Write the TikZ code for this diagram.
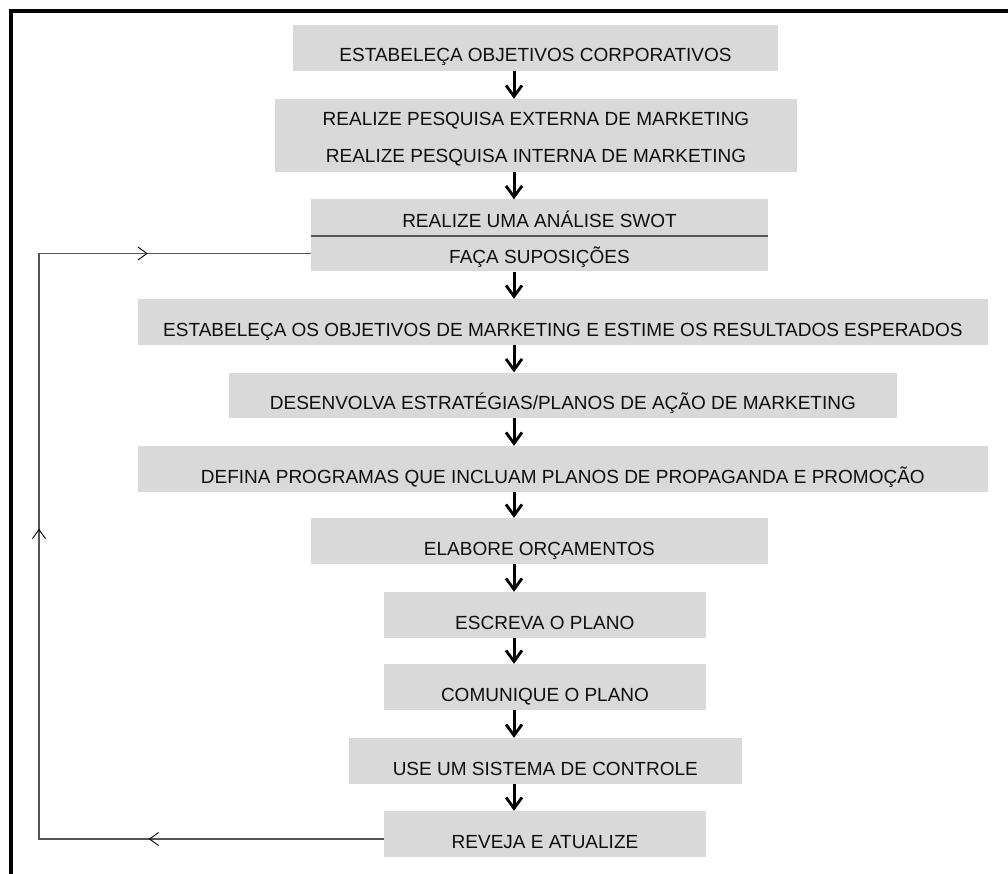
\documentclass[tikz,border=0pt]{standalone}
\usepackage{fontspec}
\setmainfont{Liberation Sans}
\usetikzlibrary{arrows.meta,decorations.markings}
\definecolor{boxgray}{RGB}{217,217,217}
\definecolor{linegray}{RGB}{85,85,85}
\definecolor{ink}{RGB}{15,15,15}
\begin{document}
\begin{tikzpicture}[x=1pt,y=-1pt,
  boxfont/.style={font=\fontsize{19}{23}\selectfont, text=ink},
  stepbox/.style={boxfont, fill=boxgray, inner sep=0pt, minimum height=45.7pt,
    text height=28.3pt, text depth=0pt},
  halfbox/.style={stepbox, minimum height=36pt, text height=21pt},
  textline/.style={boxfont, inner sep=0pt, anchor=base},
  flow/.style={line width=3pt, draw=black,
    -{Straight Barb[length=11pt,width=16pt,line width=2.8pt]}},
  fbtip/.style={black, line width=0.9pt},
  feedback/.style={draw=linegray, line width=1.3pt, line join=miter,
    postaction={decorate},
    decoration={markings,
      mark=at position 235pt with {\arrow[fbtip]{Straight Barb[length=9pt,width=13pt]}},
      mark=at position 655pt with {\arrow[fbtip]{Straight Barb[length=9pt,width=13pt]}},
      mark=at position 1039pt with {\arrow[fbtip]{Straight Barb[length=9pt,width=13pt]}}}},
  frame/.style={draw=black, line width=3.4pt, line join=miter}
]
\useasboundingbox (0,0) rectangle (1008,874);

% outer frame: top and left edges
\draw[frame] (11,880) -- (11,11) -- (1012,11);

% process steps
\node[stepbox, minimum width=485pt] (est) at (535.5,47.85) {ESTABELEÇA OBJETIVOS CORPORATIVOS};

\node[fill=boxgray, inner sep=0pt, minimum width=522pt, minimum height=72.7pt] (pesq) at (536,135.35) {};
\node[textline] (pesqA) at (536,125.7) {REALIZE PESQUISA EXTERNA DE MARKETING};
\node[textline] (pesqB) at (536,162.3) {REALIZE PESQUISA INTERNA DE MARKETING};

\node[halfbox, minimum width=457pt] (swotA) at (539.5,217.5) {REALIZE UMA ANÁLISE SWOT};
\node[halfbox, minimum width=457pt] (swotB) at (539.5,253.5) {FAÇA SUPOSIÇÕES};
\draw[draw=linegray, line width=2pt] (swotA.south west) -- (swotA.south east);

\node[stepbox, minimum width=849.7pt] (obj) at (562.85,321.85) {ESTABELEÇA OS OBJETIVOS DE MARKETING E ESTIME OS RESULTADOS ESPERADOS};
\node[stepbox, minimum width=667.7pt] (dev) at (562.85,395.35) {DESENVOLVA ESTRATÉGIAS/PLANOS DE AÇÃO DE MARKETING};
\node[stepbox, minimum width=849.7pt] (def) at (562.85,468.85) {DEFINA PROGRAMAS QUE INCLUAM PLANOS DE PROPAGANDA E PROMOÇÃO};
\node[stepbox, minimum width=456.7pt] (orc) at (539.35,540.85) {ELABORE ORÇAMENTOS};
\node[stepbox, minimum width=321.6pt] (esc) at (544.8,614.85) {ESCREVA O PLANO};
\node[stepbox, minimum width=322pt] (com) at (545,686.85) {COMUNIQUE O PLANO};
\node[stepbox, minimum width=392.6pt] (use) at (545.3,760.85) {USE UM SISTEMA DE CONTROLE};
\node[stepbox, minimum width=322pt] (rev) at (545,833.85) {REVEJA E ATUALIZE};

% column of the downward arrows
\coordinate (ax) at (514,0);
\draw[flow] (est.south -| ax) -- (pesq.north -| ax);
\draw[flow] (pesq.south -| ax) -- (swotA.north -| ax);
\draw[flow] (swotB.south -| ax) -- (obj.north -| ax);
\draw[flow] (obj.south -| ax) -- (dev.north -| ax);
\draw[flow] (dev.south -| ax) -- (def.north -| ax);
\draw[flow] (def.south -| ax) -- (orc.north -| ax);
\draw[flow] (orc.south -| ax) -- (esc.north -| ax);
\draw[flow] (esc.south -| ax) -- (com.north -| ax);
\draw[flow] (com.south -| ax) -- (use.north -| ax);
\draw[flow] (use.south -| ax) -- (rev.north -| ax);

% feedback loop from the review step back to the assumptions
\coordinate (fbB) at (39,839);
\draw[feedback] (rev.west |- fbB) -- (fbB) -- (fbB |- swotB.west) -- (swotB.west);
\end{tikzpicture}
\end{document}
